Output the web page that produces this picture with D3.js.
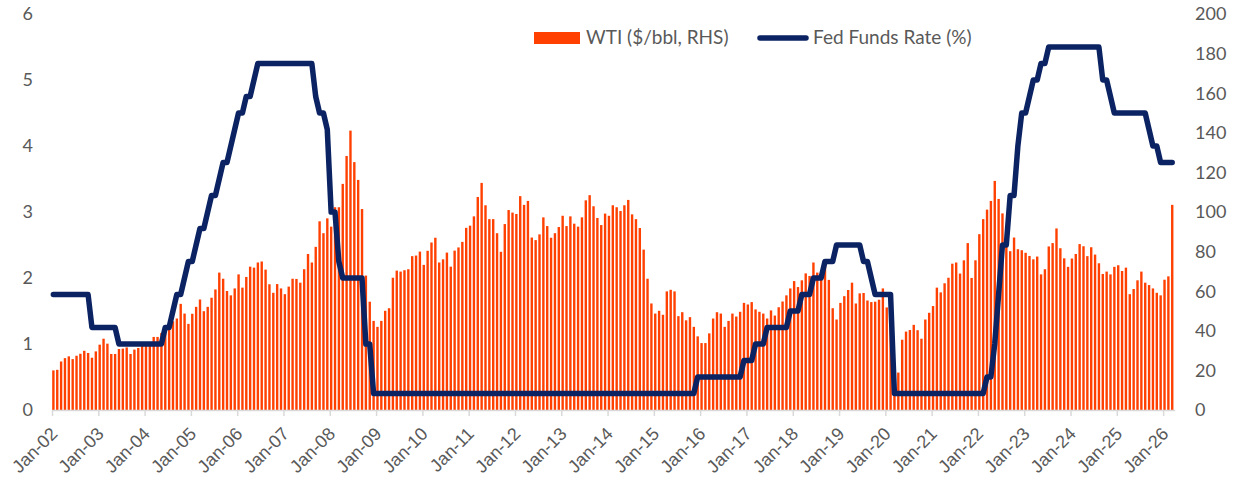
<!DOCTYPE html>
<html>
<head>
<meta charset="utf-8">
<style>
    body { margin: 0; background: #fff; }
    svg { display: block; font-family: Lato, "Open Sans", sans-serif; }
    .axis-num, .x-axis text, .legend text { fill: #595959; }
    .x-axis path, .x-axis line { stroke: #d9d9d9; stroke-width: 1.5px; }
    .bar { fill: #ff4000; }
    .fed { fill: none; stroke: #0b2362; stroke-width: 5.5px; stroke-linejoin: round; stroke-linecap: round; }
</style>
</head>
<body>
<svg id="chart" width="1243" height="481"></svg>
<script src="https://d3js.org/d3.v7.min.js"></script>
<script>
// x tick labels, one per January
var yearLabels = ["Jan-02", "Jan-03", "Jan-04", "Jan-05", "Jan-06", "Jan-07", "Jan-08", "Jan-09",
    "Jan-10", "Jan-11", "Jan-12", "Jan-13", "Jan-14", "Jan-15", "Jan-16", "Jan-17", "Jan-18",
    "Jan-19", "Jan-20", "Jan-21", "Jan-22", "Jan-23", "Jan-24", "Jan-25", "Jan-26"];

var leftTicks = [0, 1, 2, 3, 4, 5, 6];
var rightTicks = [0, 20, 40, 60, 80, 100, 120, 140, 160, 180, 200];

// WTI, $/bbl, monthly Jan-02 .. Mar-26 (right axis)
var wti = [
    20.0, 20.3, 24.5, 26.2, 27.1, 25.7, 27.4, 28.4, 29.9, 28.8, 26.4, 29.6,
    33.0, 36.0, 33.5, 28.3, 28.3, 30.8, 31.0, 31.6, 28.3, 30.5, 31.3, 32.5,
    33.5, 34.0, 36.9, 36.9, 38.9, 40.9, 42.3, 44.8, 46.2, 53.6, 48.7, 43.5,
    48.6, 52.1, 55.8, 49.9, 52.1, 56.7, 60.9, 69.4, 66.3, 60.1, 57.9, 61.4,
    68.5, 61.8, 67.2, 72.4, 71.9, 74.5, 75.0, 70.9, 63.5, 59.2, 63.6, 61.4,
    58.5, 62.3, 66.3, 66.2, 64.3, 71.1, 78.8, 74.5, 82.4, 95.3, 89.3, 96.8,
    92.6, 102.4, 102.4, 114.2, 128.3, 141.1, 125.2, 116.2, 101.5, 67.9, 54.7, 45.0,
    42.0, 45.0, 50.1, 51.4, 66.8, 70.4, 69.9, 70.6, 71.1, 77.7, 78.0, 80.0,
    73.3, 80.4, 84.6, 87.0, 74.5, 76.1, 79.5, 72.4, 80.5, 82.1, 84.9, 92.0,
    93.1, 97.8, 107.6, 114.7, 103.4, 96.4, 96.4, 89.3, 79.9, 93.9, 101.0, 99.7,
    99.0, 108.0, 103.6, 105.6, 87.1, 85.8, 88.7, 97.3, 92.9, 87.0, 89.3, 92.4,
    98.1, 92.9, 97.8, 94.1, 92.6, 97.3, 105.9, 108.5, 102.9, 97.0, 93.4, 99.2,
    98.1, 103.4, 102.4, 100.5, 103.4, 106.1, 98.8, 96.4, 91.9, 81.0, 66.3, 53.8,
    48.7, 50.1, 48.1, 59.9, 60.7, 59.9, 47.4, 49.4, 45.3, 46.9, 42.0, 37.2,
    33.8, 33.8, 38.7, 46.2, 49.4, 48.7, 42.0, 45.0, 48.7, 47.2, 49.6, 54.1,
    53.3, 54.5, 50.8, 49.6, 48.7, 46.2, 50.3, 47.7, 51.9, 54.8, 57.9, 61.4,
    65.1, 62.1, 65.5, 69.0, 67.7, 74.5, 69.4, 69.8, 73.1, 65.7, 51.4, 45.7,
    54.1, 57.5, 60.6, 64.3, 53.8, 58.9, 59.1, 55.3, 54.5, 54.7, 55.7, 61.4,
    51.8, 44.8, 20.5, 18.9, 35.5, 39.6, 40.4, 43.0, 40.3, 36.0, 45.7, 49.1,
    52.5, 61.8, 59.4, 64.0, 66.8, 73.9, 74.5, 68.9, 75.6, 84.3, 66.7, 75.6,
    88.8, 96.4, 101.2, 105.6, 115.7, 106.6, 99.3, 84.0, 80.2, 87.1, 81.2, 80.7,
    79.4, 77.8, 76.1, 77.5, 68.5, 71.1, 82.6, 84.3, 91.7, 81.7, 76.6, 72.3,
    76.5, 78.8, 83.8, 82.7, 77.7, 82.2, 78.5, 74.1, 68.7, 69.9, 68.5, 72.3,
    73.1, 70.2, 71.9, 58.5, 61.1, 65.5, 69.9, 64.3, 63.1, 61.4, 59.2, 57.9,
    65.8, 67.5, 103.6
];

// Fed funds target, upper bound, %, month end (left axis)
var fed = [
    1.75, 1.75, 1.75, 1.75, 1.75, 1.75, 1.75, 1.75, 1.75, 1.75, 1.25, 1.25,
    1.25, 1.25, 1.25, 1.25, 1.25, 1.0, 1.0, 1.0, 1.0, 1.0, 1.0, 1.0,
    1.0, 1.0, 1.0, 1.0, 1.0, 1.25, 1.25, 1.5, 1.75, 1.75, 2.0, 2.25,
    2.25, 2.5, 2.75, 2.75, 3.0, 3.25, 3.25, 3.5, 3.75, 3.75, 4.0, 4.25,
    4.5, 4.5, 4.75, 4.75, 5.0, 5.25, 5.25, 5.25, 5.25, 5.25, 5.25, 5.25,
    5.25, 5.25, 5.25, 5.25, 5.25, 5.25, 5.25, 5.25, 4.75, 4.5, 4.5, 4.25,
    3.0, 3.0, 2.25, 2.0, 2.0, 2.0, 2.0, 2.0, 2.0, 1.0, 1.0, 0.25,
    0.25, 0.25, 0.25, 0.25, 0.25, 0.25, 0.25, 0.25, 0.25, 0.25, 0.25, 0.25,
    0.25, 0.25, 0.25, 0.25, 0.25, 0.25, 0.25, 0.25, 0.25, 0.25, 0.25, 0.25,
    0.25, 0.25, 0.25, 0.25, 0.25, 0.25, 0.25, 0.25, 0.25, 0.25, 0.25, 0.25,
    0.25, 0.25, 0.25, 0.25, 0.25, 0.25, 0.25, 0.25, 0.25, 0.25, 0.25, 0.25,
    0.25, 0.25, 0.25, 0.25, 0.25, 0.25, 0.25, 0.25, 0.25, 0.25, 0.25, 0.25,
    0.25, 0.25, 0.25, 0.25, 0.25, 0.25, 0.25, 0.25, 0.25, 0.25, 0.25, 0.25,
    0.25, 0.25, 0.25, 0.25, 0.25, 0.25, 0.25, 0.25, 0.25, 0.25, 0.25, 0.5,
    0.5, 0.5, 0.5, 0.5, 0.5, 0.5, 0.5, 0.5, 0.5, 0.5, 0.5, 0.75,
    0.75, 0.75, 1.0, 1.0, 1.0, 1.25, 1.25, 1.25, 1.25, 1.25, 1.25, 1.5,
    1.5, 1.5, 1.75, 1.75, 1.75, 2.0, 2.0, 2.0, 2.25, 2.25, 2.25, 2.5,
    2.5, 2.5, 2.5, 2.5, 2.5, 2.5, 2.25, 2.25, 2.0, 1.75, 1.75, 1.75,
    1.75, 1.75, 0.25, 0.25, 0.25, 0.25, 0.25, 0.25, 0.25, 0.25, 0.25, 0.25,
    0.25, 0.25, 0.25, 0.25, 0.25, 0.25, 0.25, 0.25, 0.25, 0.25, 0.25, 0.25,
    0.25, 0.25, 0.5, 0.5, 1.0, 1.75, 2.5, 2.5, 3.25, 3.25, 4.0, 4.5,
    4.5, 4.75, 5.0, 5.0, 5.25, 5.25, 5.5, 5.5, 5.5, 5.5, 5.5, 5.5,
    5.5, 5.5, 5.5, 5.5, 5.5, 5.5, 5.5, 5.5, 5.0, 5.0, 4.75, 4.5,
    4.5, 4.5, 4.5, 4.5, 4.5, 4.5, 4.5, 4.5, 4.25, 4.0, 4.0, 3.75,
    3.75, 3.75, 3.75
];

var svg = d3.select("#chart");

// month index scale, one slot per month plus room after the last one
var x = d3.scaleLinear().domain([0, 291]).range([52, 1174.7]);
var yL = d3.scaleLinear().domain([0, 6]).range([410, 14]);
var yR = d3.scaleLinear().domain([0, 200]).range([410, 14]);
var step = x(1) - x(0);

svg.append("g")
    .selectAll("rect")
    .data(wti)
    .enter().append("rect")
    .attr("class", "bar")
    .attr("x", function(d, i) { return x(i + 0.05); })
    .attr("width", step * 0.62)
    .attr("y", function(d) { return yR(d); })
    .attr("height", function(d) { return yR(0) - yR(d); });

var xAxis = d3.axisBottom(x)
    .tickValues(yearLabels.map(function(d, i) { return i * 12; }))
    .tickFormat(function(d) { return yearLabels[d / 12]; })
    .tickSize(6)
    .tickSizeOuter(0);

var gx = svg.append("g")
    .attr("class", "x-axis")
    .attr("transform", "translate(0," + yL(0) + ")")
    .call(xAxis);

gx.selectAll("text")
    .attr("x", 0)
    .attr("y", 0)
    .attr("dy", null)
    .attr("transform", "translate(6,25) rotate(-45)")
    .style("text-anchor", "end")
    .style("font-size", "18px");

var line = d3.line()
    .x(function(d, i) { return x(i + 0.35); })
    .y(function(d) { return yL(d); });

svg.append("path")
    .datum(fed)
    .attr("class", "fed")
    .attr("d", line);

svg.append("g")
    .selectAll("text")
    .data(leftTicks)
    .enter().append("text")
    .attr("class", "axis-num")
    .attr("x", 33)
    .attr("y", function(d) { return yL(d); })
    .attr("dy", "0.35em")
    .style("text-anchor", "end")
    .style("font-size", "18px")
    .text(function(d) { return d; });

svg.append("g")
    .selectAll("text")
    .data(rightTicks)
    .enter().append("text")
    .attr("class", "axis-num")
    .attr("x", 1195)
    .attr("y", function(d) { return yR(d); })
    .attr("dy", "0.35em")
    .style("font-size", "18px")
    .text(function(d) { return d; });

// legend
var legend = svg.append("g").attr("class", "legend").style("font-size", "19px");

legend.append("rect")
    .attr("x", 534)
    .attr("y", 32)
    .attr("width", 46)
    .attr("height", 12)
    .attr("class", "bar");

legend.append("text")
    .attr("x", 586)
    .attr("y", 44)
    .text("WTI ($/bbl, RHS)");

legend.append("line")
    .attr("x1", 760)
    .attr("x2", 806)
    .attr("y1", 38)
    .attr("y2", 38)
    .attr("class", "fed");

legend.append("text")
    .attr("x", 813)
    .attr("y", 44)
    .text("Fed Funds Rate (%)");
</script>
</body>
</html>
